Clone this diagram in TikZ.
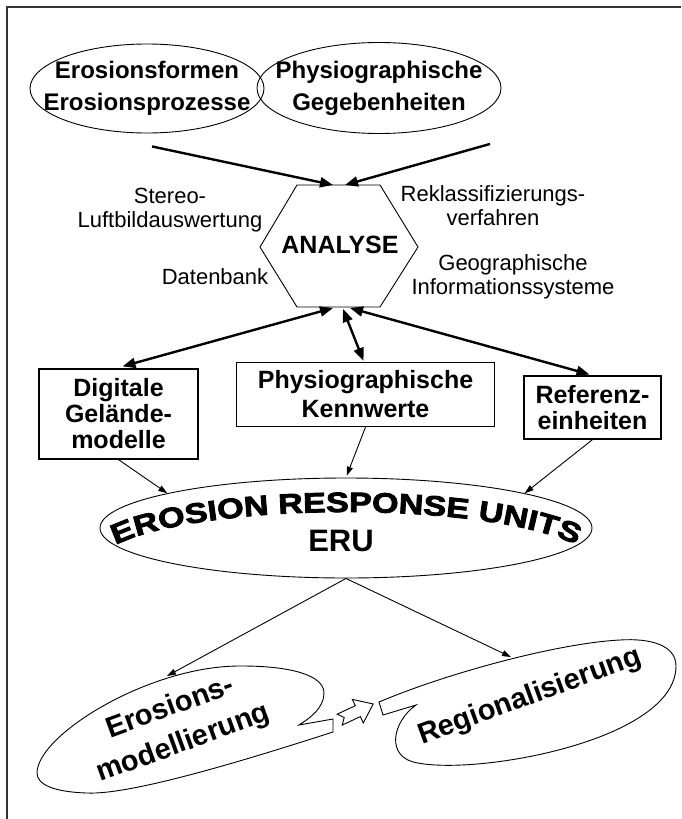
\documentclass[tikz,border=0pt]{standalone}
\usepackage{fontspec}
\setmainfont{Liberation Sans}
\newfontfamily\erufont[FakeStretch=1.22,FakeBold=3]{Liberation Sans}
\usetikzlibrary{arrows.meta,calc,decorations.text,shapes.geometric}
\begin{document}
\begin{tikzpicture}[x=1pt,y=-1pt,
  thickarr/.style={line width=2.4pt,-{Triangle[length=13pt,width=10pt]}},
  thickboth/.style={line width=2.4pt,{Triangle[length=13pt,width=10pt]}-{Triangle[length=13pt,width=10pt]}},
  thinarr/.style={line width=0.9pt,-{Triangle[length=9pt,width=6pt]}},
  titleell/.style={draw,line width=0.9pt,ellipse,inner sep=0pt},
  titletext/.style={inner sep=0pt,align=center,font=\bfseries\fontsize{24}{32}\selectfont},
  boxn/.style={draw,line width=1.2pt,rectangle,inner sep=0pt,align=center,font=\bfseries\fontsize{25}{26}\selectfont},
  lab/.style={inner sep=0pt,align=center,font=\fontsize{22}{24}\selectfont},
  outl/.style={draw,line width=0.9pt},
  calltext/.style={inner sep=0pt,align=center,rotate=20,font=\bfseries\fontsize{29}{38}\selectfont},
  framel/.style={draw=black!80,line width=2pt}
  ]
\useasboundingbox (0,0) rectangle (681,819);
\path[framel] (681,7) -- (7,7) -- (7,819);

% top ellipses
\node[titleell,minimum width=234pt,minimum height=89pt] (e1) at (147,88.5) {};
\node[titleell,minimum width=244pt,minimum height=91pt] (e2) at (379,88) {};
\node[titletext] (e1t) at (e1.center) {Erosionsformen\\Erosionsprozesse};
\node[titletext] (e2t) at (e2.center) {Physiographische\\Gegebenheiten};

% hexagon
\draw[outl] (260,247) -- (297,185) -- (380,185) -- (418,247) -- (380,307) -- (297,307) -- cycle;
\node[inner sep=0pt,font=\bfseries\fontsize{25}{25}\selectfont] (ana) at (340,245) {ANALYSE};
\coordinate (hT1) at (333,185);
\coordinate (hT2) at (345,185);
\coordinate (hB1) at (333,308);
\coordinate (hB2) at (343,309);
\coordinate (hB3) at (350,308);

% labels
\node[lab] (lst) at (170,210) {Stereo-\\Luftbildauswertung};
\node[lab] (ldb) at (215,277) {Datenbank};
\node[lab] (lrk) at (493,206) {Reklassifizierungs-\\verfahren};
\node[lab] (lgi) at (513,277) {Geographische\\Informationssysteme};

% boxes
\node[boxn,minimum width=159pt,minimum height=90pt] (dig) at (118.5,414) {Digitale\\Gelände-\\modelle};
\node[boxn,minimum width=258pt,minimum height=64pt,font=\bfseries\fontsize{25}{29}\selectfont] (phk) at (365.5,394.5) {Physiographische\\Kennwerte};
\node[boxn,minimum width=137pt,minimum height=63pt] (ref) at (592.5,407.5) {Referenz-\\einheiten};

% ERU ellipse
\node[draw,line width=0.9pt,ellipse,minimum width=492pt,minimum height=100pt,inner sep=0pt] (eru) at (346,528) {};
\path[decorate,decoration={text along path,text align=center,
  text={|\erufont\bfseries\fontsize{28}{28}\selectfont|EROSION RESPONSE UNITS}}]
  (112,547) arc[start angle=200.6,end angle=339.4,x radius=250,y radius=54];
\node[inner sep=0pt,font=\bfseries\fontsize{31}{31}\selectfont] (erut) at (341,541) {ERU};

% top arrows
\draw[thickarr] ($(e1.south)+(5,13)$) -- (hT1);
\draw[thickarr] ($(e2.south)+(111,10)$) -- (hT2);

% analyse <-> boxes
\draw[thickboth] (hB1) -- ($(dig.north)+(4,-2)$);
\draw[thickboth] (hB2) -- ($(phk.north)+(-2,-1)$);
\draw[thickboth] (hB3) -- ($(ref.north)+(-3,-1)$);

% boxes -> ERU
\draw[thinarr] (dig.south) -- (eru.169);
\draw[thinarr,shorten >=2pt] (phk.south) -- (eru.north);
\draw[thinarr] (ref.south) -- (eru.11.5);

% callouts
\draw[outl,fill=white] (299,725) -- (333,719) -- (333,732)
  .. controls (240,762) and (130,795) .. (87,793)
  .. controls (55,792) and (37,785) .. (37,773)
  .. controls (37,735) and (150,665) .. (242,666)
  .. controls (290,666) and (324,675) .. (324,693)
  .. controls (324,708) and (310,718) .. cycle;
\draw[outl,fill=white] (379,702) -- (383,715) -- (416,705)
  .. controls (392,722) and (385,758) .. (418,763)
  .. controls (480,775) and (676,740) .. (676,666)
  .. controls (676,645) and (650,638) .. (620,640)
  .. controls (560,643) and (450,672) .. cycle;
\coordinate (lc) at (167,676);
\coordinate (rc) at (511,657);
\node[calltext] (ltx) at (177,726) {Erosions-\\modellierung};
\node[calltext] (rtx) at (530,697) {Regionalisierung};

% block arrow
\draw[outl,fill=white,shift={(356,712)},rotate=25]
  (-18,-6) -- (2,-6) -- (2,-13) -- (19,0) -- (2,13) -- (2,6) -- (-18,6) -- (-13,0) -- cycle;

% ERU -> callouts
\draw[thinarr] (eru.south) -- (lc);
\draw[thinarr] (eru.south) -- (rc);
\end{tikzpicture}
\end{document}
